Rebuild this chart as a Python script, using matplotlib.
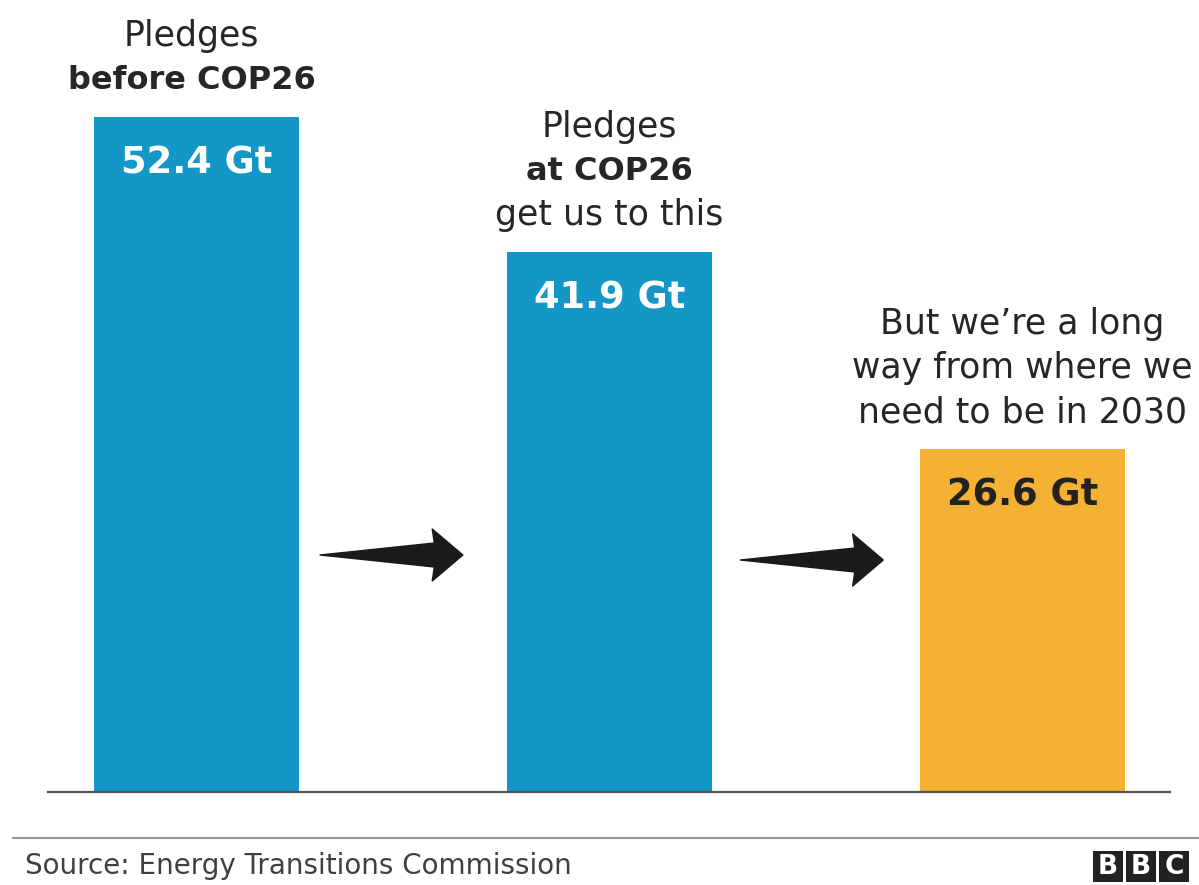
import matplotlib
matplotlib.use("Agg")
import matplotlib.pyplot as plt
from matplotlib.patches import Polygon, Rectangle

plt.rcParams['font.family'] = ['DejaVu Sans']

# Data
categories = ["Pledges before COP26", "Pledges at COP26", "Needed in 2030"]
values = [52.4, 41.9, 26.6]
value_labels = ["52.4 Gt", "41.9 Gt", "26.6 Gt"]
header_lines = [
    [("Pledges", "normal"), ("before COP26", "bold")],
    [("Pledges", "normal"), ("at COP26", "bold"), ("get us to this", "normal")],
    [("But we\u2019re a long", "normal"), ("way from where we", "normal"), ("need to be in 2030", "normal")],
]
bar_colors = ["#1496c6", "#1496c6", "#f5b133"]
label_colors = ["white", "white", "#222222"]
source = "Source: Energy Transitions Commission"

W, H = 1199, 885
fig = plt.figure(figsize=(W / 100, H / 100), dpi=100)
fig.patch.set_facecolor("white")

ax_left, ax_right, ax_bottom, ax_top = 48, 1170, 792, 0
ax = fig.add_axes([ax_left / W, (H - ax_bottom) / H, (ax_right - ax_left) / W, (ax_bottom - ax_top) / H])
px_per_unit = 413.0
px_per_val = 12.88
ax.set_xlim(-(196.5 - ax_left) / px_per_unit, 2 + (ax_right - 1022.5) / px_per_unit)
ax.set_ylim(0, (ax_bottom - ax_top) / px_per_val)
for s in ["top", "right", "left"]:
    ax.spines[s].set_visible(False)
ax.spines["bottom"].set_color("#555555")
ax.spines["bottom"].set_linewidth(1.6)
ax.set_xticks([])
ax.set_yticks([])
ax.patch.set_alpha(0)

x = list(range(len(values)))
bars = ax.bar(x, values, width=0.494, color=bar_colors, zorder=2)

u = 1 / px_per_val  # data units per pixel (y)
for i, v in enumerate(values):
    ax.text(i, v - 46 * u, value_labels[i], ha="center", va="center",
            fontsize=26.5, fontweight="bold", color=label_colors[i], zorder=3)
    lines = header_lines[i]
    n = len(lines)
    for j, (txt, wt) in enumerate(lines):
        ypix = (n - j) * 44 - 7
        ax.text(i - (0.012 if i == 0 else 0), v + ypix * u, txt, ha="center", va="center",
                fontsize=(23 if wt == "bold" else 25), fontweight=wt, color="#262626")

# Arrows between bars
def draw_arrow(x0, x1, yc):
    L = x1 - x0
    hb = x0 + L * 0.80
    pts = [
        (x0, yc),
        (hb, yc + 12 * u),
        (hb - 0.005, yc + 26 * u),
        (x1, yc),
        (hb - 0.005, yc - 26 * u),
        (hb, yc - 12 * u),
    ]
    ax.add_patch(Polygon(pts, closed=True, facecolor="#1a1a1a", edgecolor="#1a1a1a",
                         linewidth=1, joinstyle="round", zorder=3))

for i in range(len(values) - 1):
    yc = (792 - (555 + 5 * i)) * u
    x0 = i + 0.299 + 0.018 * i
    draw_arrow(x0, x0 + 0.346, yc)

# Footer separator
fig.add_artist(plt.Line2D([13 / W, 1.0], [(H - 838) / H] * 2, color="#999999", linewidth=1.5))
fig.text(25 / W, (H - 866) / H, source, ha="left", va="center", fontsize=20, color="#404040")

# BBC logo
for k, letter in enumerate("BBC"):
    x0 = 1093 + k * 33
    fig.add_artist(Rectangle((x0 / W, (H - 882) / H), 30 / W, 31 / H,
                             facecolor="#222222", edgecolor="none", transform=fig.transFigure))
    fig.text((x0 + 15) / W, (H - 866.5) / H, letter, ha="center", va="center",
             fontsize=19, fontweight="bold", color="white")

fig.savefig("out.png", dpi=100)
